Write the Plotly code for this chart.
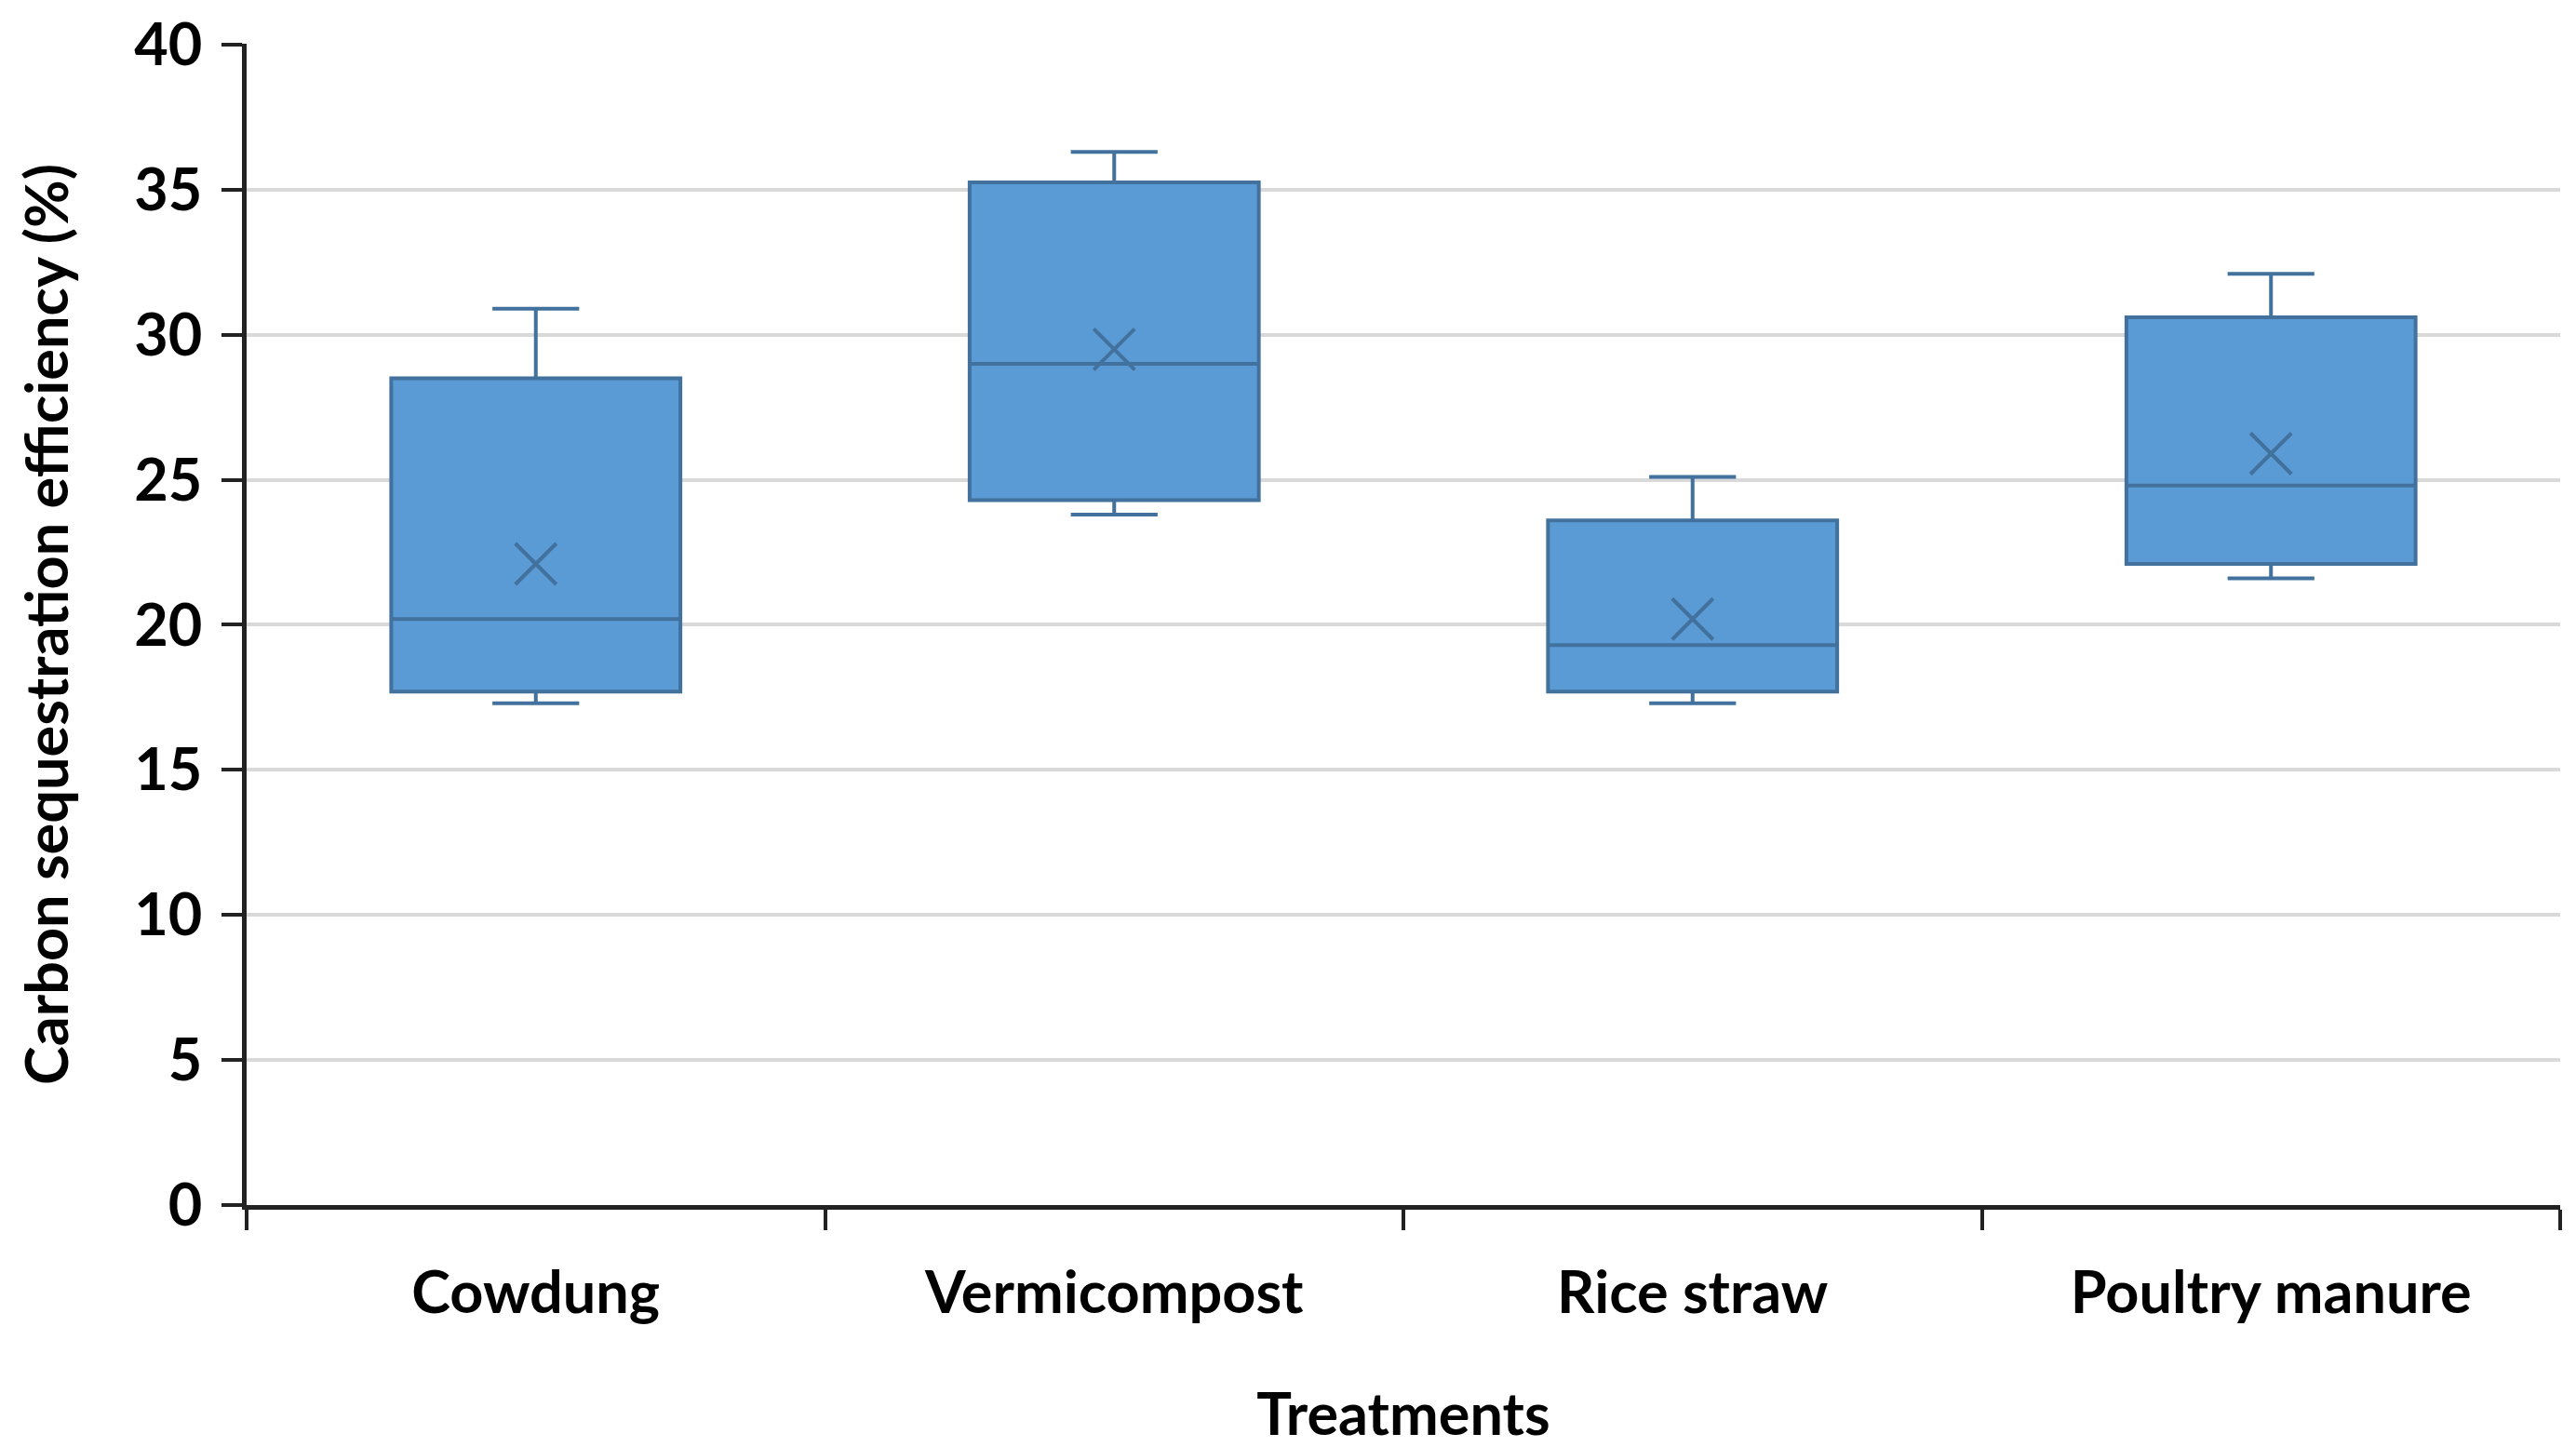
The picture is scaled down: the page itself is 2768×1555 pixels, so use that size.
import plotly.graph_objects as go

categories = ["Cowdung", "Vermicompost", "Rice straw", "Poultry manure"]
lower_whisker = [17.3, 23.8, 17.3, 21.6]
q1_values = [17.7, 24.3, 17.7, 22.1]
median_values = [20.2, 29.0, 19.3, 24.8]
q3_values = [28.5, 35.25, 23.6, 30.6]
upper_whisker = [30.9, 36.3, 25.1, 32.1]
mean_values = [22.1, 29.5, 20.2, 25.9]
y_ticks = [0, 5, 10, 15, 20, 25, 30, 35, 40]

FILL = "#5b9bd5"
EDGE = "#41719c"
FONT = "Lato"
FS = 63

fig = go.Figure()
fig.add_trace(go.Box(
    x=categories,
    q1=q1_values,
    median=median_values,
    q3=q3_values,
    lowerfence=lower_whisker,
    upperfence=upper_whisker,
    fillcolor=FILL,
    line=dict(color=EDGE, width=4),
    width=0.5,
    whiskerwidth=0.3,
    boxpoints=False,
    showlegend=False,
    hoverinfo="skip",
))
fig.add_trace(go.Scatter(
    x=categories,
    y=mean_values,
    mode="markers",
    marker=dict(symbol="x-thin-open", size=44, line=dict(color=EDGE, width=4), color=EDGE),
    showlegend=False,
    hoverinfo="skip",
))

fig.update_layout(
    width=2768,
    height=1555,
    margin=dict(l=257, r=25, t=39, b=268),
    paper_bgcolor="white",
    plot_bgcolor="white",
    font=dict(family=FONT, color="black", size=FS, weight="bold"),
    xaxis=dict(
        type="category",
        categoryorder="array",
        categoryarray=categories,
        tickson="boundaries",
        ticks="outside",
        ticklen=22,
        tickwidth=4,
        tickcolor="#222222",
        showline=True,
        linecolor="#222222",
        linewidth=5,
        showgrid=False,
        automargin=False,
        tickfont=dict(family=FONT, size=FS, color="black", weight="bold"),
        ticklabelstandoff=35,
        ticklabeloverflow="allow",
        title=dict(text="Treatments", font=dict(family=FONT, size=FS, color="black", weight="bold"), standoff=77),
        range=[-0.5, 3.5],
    ),
    yaxis=dict(
        range=[0, 40.03],
        tickvals=y_ticks,
        ticks="outside",
        ticklen=22,
        tickwidth=4,
        tickcolor="#222222",
        showline=True,
        linecolor="#222222",
        linewidth=5,
        showgrid=True,
        gridcolor="#d9d9d9",
        gridwidth=4,
        zeroline=False,
        automargin=False,
        tickfont=dict(family=FONT, size=FS, color="black", weight="bold"),
        ticklabelstandoff=8,
        ticklabeloverflow="allow",
        title=dict(text="Carbon sequestration efficiency (%)", font=dict(family=FONT, size=FS, color="black", weight="bold"), standoff=52),
    ),
)

fig.write_html("out.html")
